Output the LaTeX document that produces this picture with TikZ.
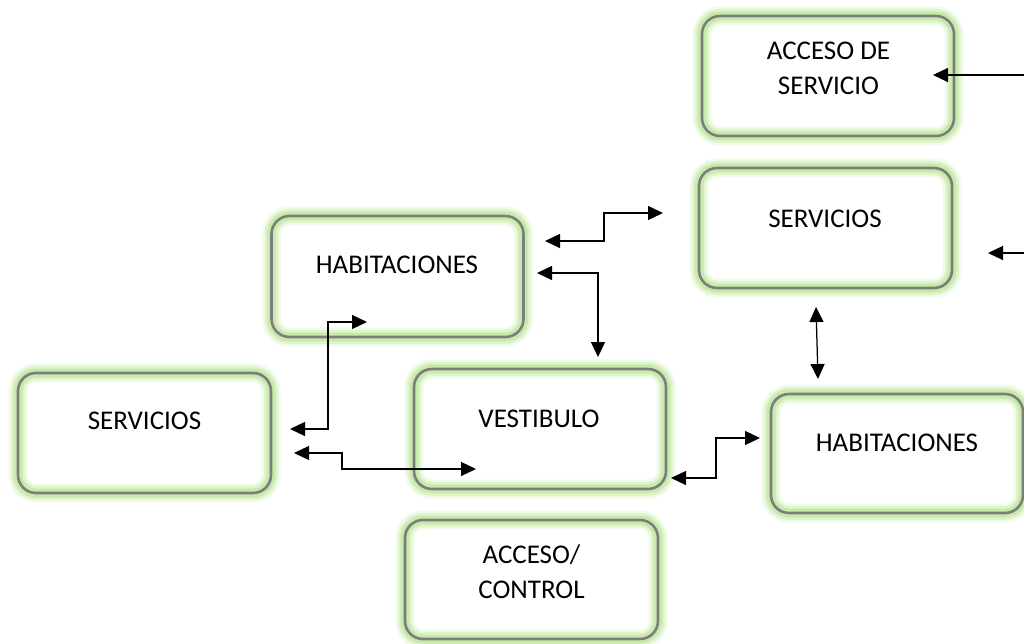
\documentclass[tikz,border=0pt]{standalone}
\usepackage{fontspec}
\setmainfont{Carlito}
\usetikzlibrary{arrows.meta}
\definecolor{glow}{RGB}{150,215,90}
\definecolor{boxgray}{RGB}{125,125,125}
\tikzset{
  box/.style={rectangle, rounded corners=18pt, minimum width=252pt, minimum height=120pt, inner sep=0pt,
    draw=boxgray, line width=2.6pt,
    preaction={draw=glow, line width=19pt, opacity=0.12},
    preaction={draw=glow, line width=14pt, opacity=0.2},
    preaction={draw=glow, line width=9pt, opacity=0.3}},
  lbl/.style={inner sep=0pt, align=center, font=\fontsize{27}{34.5}\selectfont},
  conn/.style={draw=black, line width=1.25pt},
  both/.style={conn, {Triangle[length=15pt,width=14pt]}-{Triangle[length=15pt,width=14pt]}},
  one/.style={conn, -{Triangle[length=15pt,width=14pt]}}
}
\begin{document}
\begin{tikzpicture}[x=1pt,y=-1pt]
\useasboundingbox[fill=white] (0,0) rectangle (1024,644);
% boxes
\node[box, minimum width=252pt] (acc) at (828,76) {};
\node[box, minimum width=253pt] (servtr) at (825.5,228) {};
\node[box, minimum height=121pt] (habt) at (397.5,276.5) {};
\node[box, minimum width=253pt] (servl) at (144.5,433) {};
\node[box] (vest) at (540,429) {};
\node[box, minimum height=119pt] (habr) at (897,453.5) {};
\node[box, minimum width=253pt, minimum height=119pt] (ctrl) at (531.5,579.5) {};
% labels
\node[lbl] (acct) at (828.5,68.5) {ACCESO DE\\SERVICIO};
\node[lbl, anchor=base] (servtrt) at (825,227) {SERVICIOS};
\node[lbl, anchor=base] (habtt) at (397,273) {HABITACIONES};
\node[lbl, anchor=base] (servlt) at (144.5,429) {SERVICIOS};
\node[lbl, anchor=base] (vestt) at (539,427) {VESTIBULO};
\node[lbl, anchor=base] (habrt) at (897,451) {HABITACIONES};
\node[lbl] (ctrlt) at (531.5,571.5) {ACCESO/\\CONTROL};
% connector end points
\coordinate (a1) at (1024,75);  \coordinate (a2) at (933,75);
\coordinate (b1) at (1024,253); \coordinate (b2) at (988,253);
\coordinate (c1) at (545,241);  \coordinate (c2) at (663,213);
\coordinate (d1) at (537,273);  \coordinate (d2) at (598,357);
\coordinate (e1) at (367,322);  \coordinate (e2) at (290,429);
\coordinate (f1) at (294,453);  \coordinate (f2) at (476,469);
\coordinate (g1) at (816,307);  \coordinate (g2) at (818,379);
\coordinate (h1) at (671,478);  \coordinate (h2) at (760,438);
% connectors
\draw[one] (a1) -- (a2);
\draw[one] (b1) -- (b2);
\draw[both] (c1) -- (604,241) -- (604,213) -- (c2);
\draw[both] (d1) -- (598,273) -- (d2);
\draw[both] (e1) -- (328,322) -- (328,429) -- (e2);
\draw[both] (f1) -- (342,453) -- (342,469) -- (f2);
\draw[both] (g1) -- (g2);
\draw[both] (h1) -- (716,478) -- (716,438) -- (h2);
\end{tikzpicture}
\end{document}
